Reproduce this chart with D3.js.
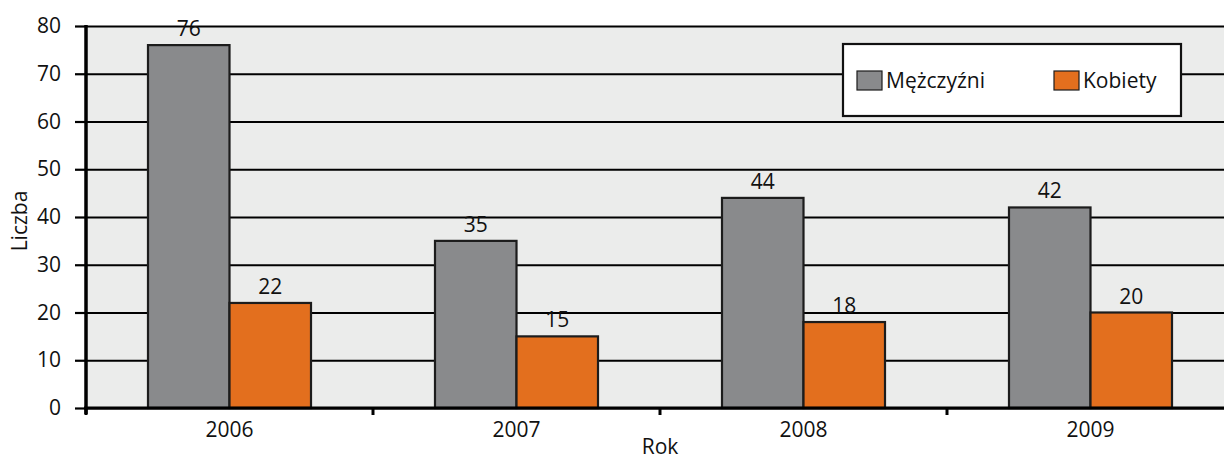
<!DOCTYPE html>
<html>
<head>
<meta charset="utf-8">
<script src="https://cdn.jsdelivr.net/npm/d3@7"></script>
<style>
  html, body { margin: 0; padding: 0; background: #ffffff; }
  svg { display: block; font-family: "Open Sans", sans-serif; }
</style>
</head>
<body>
<svg id="chart" width="1224" height="459"></svg>
<script>
// Liczba osób w latach 2006–2009 według płci
const years = ["2006", "2007", "2008", "2009"];
const men = [76, 35, 44, 42];
const women = [22, 15, 18, 20];
const seriesNames = ["Mężczyźni", "Kobiety"];
const seriesColors = ["#898a8c", "#e36f1e"];
const yTicks = [0, 10, 20, 30, 40, 50, 60, 70, 80];

const FS = 21;
const svg = d3.select("#chart");
const W = 1224, H = 459;
const m = { left: 86, right: -10, top: 26, bottom: 51 };
const plotRight = W - m.right;
const plotBottom = H - m.bottom;

const x = d3.scaleBand().domain(years).range([m.left, plotRight]);
const y = d3.scaleLinear().domain([0, 80]).range([plotBottom, m.top]);
const barW = x.bandwidth() * 0.284;

// plot background
svg.append("rect")
  .attr("x", m.left).attr("y", m.top)
  .attr("width", plotRight - m.left).attr("height", plotBottom - m.top)
  .attr("fill", "#ebeceb");

// horizontal gridlines with left tick marks
const yAxis = d3.axisLeft(y).tickValues(yTicks).tickSize(-(plotRight - m.left)).tickPadding(25);
const gy = svg.append("g").attr("transform", `translate(${m.left},0)`).call(yAxis);
gy.select(".domain").remove();
gy.selectAll(".tick line").attr("stroke", "#000").attr("stroke-width", 2.2);
gy.selectAll(".tick").append("line")
  .attr("x1", -11).attr("x2", 0).attr("stroke", "#000").attr("stroke-width", 2.2);
gy.selectAll(".tick text")
  .attr("font-size", FS).attr("fill", "#111").attr("font-family", "Open Sans, sans-serif");

// bars
const series = [men, women];
series.forEach((vals, si) => {
  svg.append("g").selectAll("rect")
    .data(years.map((yr, i) => ({ yr, v: vals[i] })))
    .join("rect")
    .attr("x", d => x(d.yr) + x.bandwidth() / 2 - barW + si * barW)
    .attr("y", d => y(d.v))
    .attr("width", barW)
    .attr("height", d => y(0) - y(d.v))
    .attr("fill", seriesColors[si])
    .attr("stroke", "#1c1c1c")
    .attr("stroke-width", 2.2);

  svg.append("g").selectAll("text")
    .data(years.map((yr, i) => ({ yr, v: vals[i] })))
    .join("text")
    .attr("x", d => x(d.yr) + x.bandwidth() / 2 - barW / 2 + si * barW)
    .attr("y", d => y(d.v) - 9)
    .attr("text-anchor", "middle")
    .attr("font-size", FS)
    .attr("fill", "#111")
    .text(d => d.v);
});

// bottom axis with ticks between categories
const xAxis = d3.axisBottom(x).tickSize(0).tickPadding(14);
const gx = svg.append("g").attr("transform", `translate(0,${plotBottom})`).call(xAxis);
gx.select(".domain").remove();
gx.selectAll(".tick text").attr("font-size", FS).attr("fill", "#111").attr("font-family", "Open Sans, sans-serif");

svg.append("g").selectAll("line")
  .data(years)
  .join("line")
  .attr("x1", d => x(d)).attr("x2", d => x(d))
  .attr("y1", plotBottom).attr("y2", plotBottom + 7)
  .attr("stroke", "#000").attr("stroke-width", 3);

svg.append("line")
  .attr("x1", m.left - 2).attr("x2", plotRight)
  .attr("y1", plotBottom).attr("y2", plotBottom)
  .attr("stroke", "#000").attr("stroke-width", 3);
svg.append("line")
  .attr("x1", m.left).attr("x2", m.left)
  .attr("y1", m.top - 1).attr("y2", plotBottom + 6)
  .attr("stroke", "#000").attr("stroke-width", 3.5);

// axis titles
svg.append("text")
  .attr("transform", `translate(27,${(m.top + plotBottom) / 2 + 4}) rotate(-90)`)
  .attr("text-anchor", "middle")
  .attr("font-size", FS).attr("fill", "#111")
  .text("Liczba");
svg.append("text")
  .attr("x", 660).attr("y", 454)
  .attr("text-anchor", "middle")
  .attr("font-size", FS).attr("fill", "#111")
  .text("Rok");

// legend
const lg = svg.append("g").attr("transform", "translate(843,44)");
lg.append("rect")
  .attr("width", 338).attr("height", 72)
  .attr("fill", "#ffffff").attr("stroke", "#111").attr("stroke-width", 2.2);
const legendX = [14, 211];
seriesNames.forEach((name, i) => {
  lg.append("rect")
    .attr("x", legendX[i]).attr("y", 27)
    .attr("width", 25).attr("height", 19)
    .attr("fill", seriesColors[i]).attr("stroke", "#1c1c1c").attr("stroke-width", 1.2);
  lg.append("text")
    .attr("x", legendX[i] + 29).attr("y", 44)
    .attr("font-size", FS).attr("fill", "#111")
    .text(name);
});
</script>
</body>
</html>
